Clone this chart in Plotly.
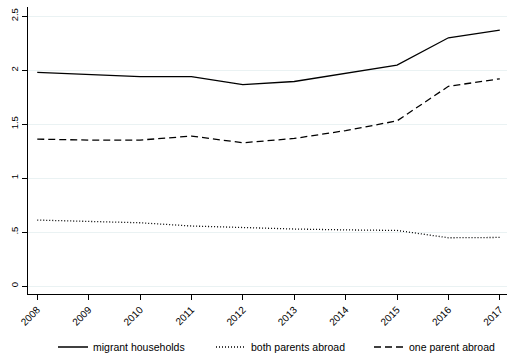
import plotly.graph_objects as go

years = [2008, 2009, 2010, 2011, 2012, 2013, 2014, 2015, 2016, 2017]
migrant_households = [1.98, 1.96, 1.94, 1.94, 1.865, 1.895, 1.97, 2.046, 2.30, 2.37]
both_parents_abroad = [0.611, 0.602, 0.586, 0.556, 0.54, 0.528, 0.52, 0.515, 0.447, 0.45]
one_parent_abroad = [1.361, 1.352, 1.352, 1.389, 1.327, 1.367, 1.44, 1.53, 1.85, 1.92]

y_tickvals = [0, 0.5, 1, 1.5, 2, 2.5]
y_ticktext = ["0", ".5", "1", "1.5", "2", "2.5"]

fig = go.Figure()
fig.add_trace(go.Scatter(x=years, y=migrant_households, mode="lines", name="migrant households",
                         line=dict(color="black", width=1.3, dash="solid")))
fig.add_trace(go.Scatter(x=years, y=both_parents_abroad, mode="lines", name="both parents abroad",
                         line=dict(color="black", width=1.3, dash="1px,2px")))
fig.add_trace(go.Scatter(x=years, y=one_parent_abroad, mode="lines", name="one parent abroad",
                         line=dict(color="black", width=1.3, dash="7px,4px")))

fig.update_layout(
    width=507, height=353,
    margin=dict(l=28, r=0, t=7, b=59, autoexpand=False),
    paper_bgcolor="white", plot_bgcolor="white",
    font=dict(family="Liberation Sans, Arial, sans-serif", size=10, color="black"),
    showlegend=True,
    legend=dict(orientation="h", x=53 / 507, xanchor="left", xref="container",
                y=0.017, yanchor="middle", yref="container",
                font=dict(size=10.5), entrywidth=113, bgcolor="rgba(0,0,0,0)"),
)
fig.update_xaxes(
    range=[2007.82, 2017.14], tickvals=years, ticktext=[str(y) for y in years],
    tickangle=-45, ticks="outside", ticklen=5, tickcolor="black", tickwidth=1,
    showline=True, linecolor="black", linewidth=1.2, showgrid=False, zeroline=False,
    tickfont=dict(size=10),
)
fig.update_yaxes(
    range=[-0.074, 2.585], tickvals=y_tickvals, ticktext=y_ticktext,
    tickangle=-90, ticks="outside", ticklen=5, tickcolor="black", tickwidth=1,
    showline=True, linecolor="black", linewidth=1.2, showgrid=True, gridcolor="#eaf2f3",
    gridwidth=1, zeroline=False, tickfont=dict(size=9.5),
)

fig.write_html("out.html")
